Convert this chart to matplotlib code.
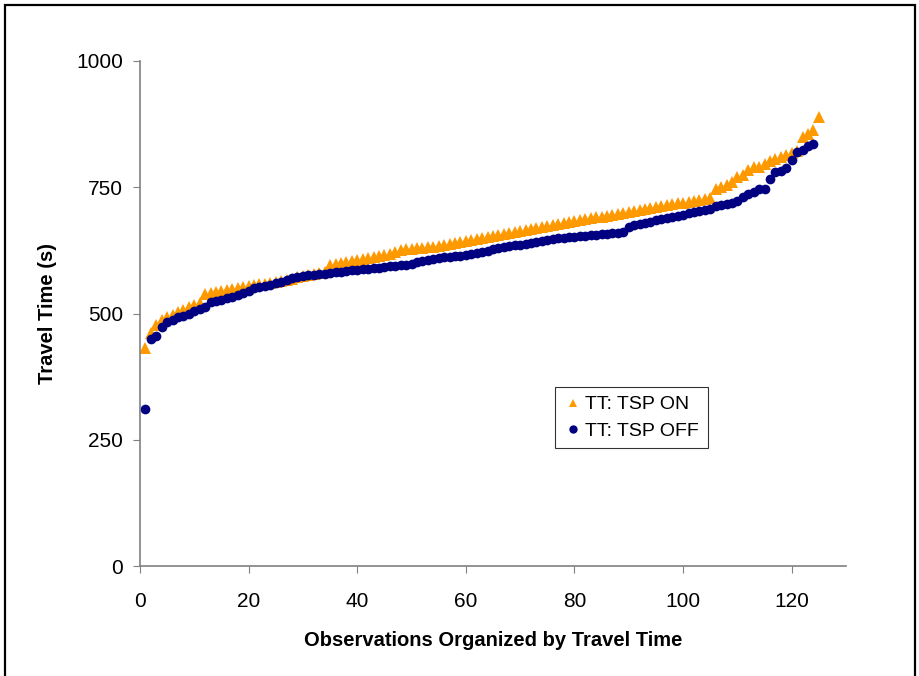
import matplotlib

matplotlib.use("Agg")

import matplotlib.pyplot as plt
from matplotlib.patches import Rectangle

plt.rcParams.update(
    {
        "font.family": ["Liberation Sans", "DejaVu Sans"],
        "font.size": 14,
    }
)

# travel times sorted ascending (s)
tsp_on = [
    432, 461, 477, 487, 494, 498, 502, 507, 512, 516,
    520, 538, 541, 543, 545, 547, 549, 551, 553, 555,
    556, 558, 559, 561, 563, 565, 567, 569, 572, 575,
    577, 579, 581, 583, 596, 598, 600, 602, 604, 606,
    608, 610, 612, 614, 616, 618, 621, 625, 627, 628,
    629, 630, 631, 632, 634, 635, 637, 639, 641, 643,
    645, 647, 649, 651, 653, 656, 658, 660, 662, 664,
    666, 668, 670, 672, 674, 676, 678, 680, 682, 684,
    686, 688, 689, 691, 692, 694, 695, 697, 699, 701,
    703, 705, 707, 709, 711, 713, 715, 716, 718, 719,
    721, 723, 725, 726, 729, 746, 750, 755, 760, 770,
    774, 784, 790, 791, 797, 802, 806, 809, 813, 818,
    822, 850, 855, 864, 889,
]
tsp_off = [
    311, 450, 456, 474, 483, 488, 493, 496, 500, 505,
    509, 512, 523, 525, 527, 530, 533, 537, 541, 545,
    550, 552, 554, 557, 560, 563, 567, 570, 572, 574,
    576, 577, 578, 579, 580, 582, 583, 584, 586, 587,
    588, 589, 590, 591, 592, 594, 595, 596, 597, 599,
    601, 603, 605, 607, 609, 611, 612, 613, 614, 615,
    617, 619, 621, 624, 627, 630, 632, 634, 635, 636,
    637, 639, 641, 643, 646, 648, 649, 650, 651, 652,
    653, 654, 655, 656, 657, 658, 659, 660, 662, 672,
    675, 677, 679, 682, 685, 688, 690, 692, 694, 696,
    699, 701, 702, 704, 706, 712, 715, 717, 719, 722,
    730, 737, 741, 746, 747, 766, 780, 782, 788, 803,
    819, 824, 832, 836,
]
obs_on = list(range(1, len(tsp_on) + 1))
obs_off = list(range(1, len(tsp_off) + 1))

x_ticks = [0, 20, 40, 60, 80, 100, 120]
y_ticks = [0, 250, 500, 750, 1000]

fig = plt.figure(figsize=(9.2, 6.76), dpi=100)
ax = fig.add_axes([140 / 920, 1 - 566 / 676, 706 / 920, 505 / 676])

ax.plot(obs_on, tsp_on, linestyle="none", marker="^", markersize=8.5,
        color="#FF9900", markeredgewidth=0, label="TT: TSP ON")
ax.plot(obs_off, tsp_off, linestyle="none", marker="o", markersize=7,
        color="#000080", markeredgewidth=0, label="TT: TSP OFF")

ax.set_xlim(0, 130)
ax.set_ylim(0, 1000)
ax.set_xticks(x_ticks)
ax.set_yticks(y_ticks)
ax.tick_params(axis="both", direction="out", length=5, color="#808080",
               labelsize=15)
ax.tick_params(axis="x", pad=14)
ax.tick_params(axis="y", pad=7)
for side in ["top", "right"]:
    ax.spines[side].set_visible(False)
for side in ["left", "bottom"]:
    ax.spines[side].set_color("#808080")
    ax.spines[side].set_linewidth(1.2)

ax.set_xlabel("Observations Organized by Travel Time", fontweight="bold",
              fontsize=14.5, labelpad=14)
ax.set_ylabel("Travel Time (s)", fontweight="bold", fontsize=14.5,
              labelpad=14)

leg = ax.legend(loc="upper left", bbox_to_anchor=(415 / 706, 1 - 326 / 505),
                fontsize=14, frameon=True, fancybox=False, handletextpad=0.1,
                handlelength=1.0, borderpad=0.45, labelspacing=0.45,
                borderaxespad=0)
leg.get_frame().set_edgecolor("#000000")
leg.get_frame().set_linewidth(0.8)
for h in leg.legend_handles:
    h.set_markersize(6)

fig.patches.append(Rectangle((5 / 920, -0.05), 910 / 920, 1.05 - 5 / 676,
                             transform=fig.transFigure, fill=False,
                             edgecolor="black", linewidth=1.6))

fig.savefig("out.png", dpi=100)
